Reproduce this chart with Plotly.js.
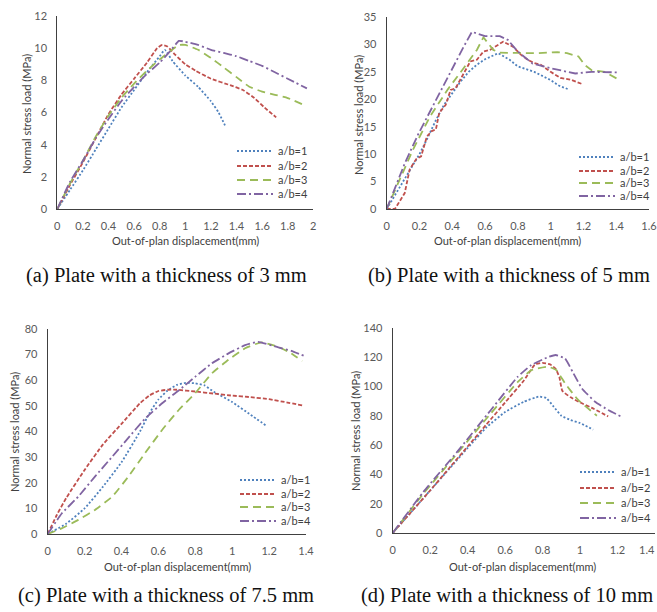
<!DOCTYPE html>
<html>
<head>
<meta charset="utf-8">
<script src="https://cdn.plot.ly/plotly-3.0.1.min.js"></script>
<style>html,body{margin:0;padding:0;background:#fff;}#chart{width:657px;height:612px;}</style>
</head>
<body>
<div id="chart"></div>
<script>
// Series names
const seriesNames = ["a/b=1", "a/b=2", "a/b=3", "a/b=4"];

// (a) 3 mm plate
const a1x = [0,0.1,0.2,0.3,0.4,0.5,0.6,0.7,0.8,0.84,0.9,1.0,1.1,1.2,1.26,1.31];
const a1y = [0,1.2,2.4,3.7,5.0,6.3,7.4,8.5,9.5,9.9,9.2,8.3,7.6,6.7,6.0,5.2];
const a2x = [0,0.1,0.2,0.3,0.4,0.5,0.6,0.7,0.78,0.82,0.86,0.92,1.0,1.08,1.2,1.35,1.45,1.54,1.62,1.71];
const a2y = [0,1.5,2.9,4.4,5.9,7.1,8.1,9.1,10.0,10.2,10.1,9.6,9.0,8.6,8.1,7.7,7.4,6.9,6.3,5.7];
const a3x = [0,0.1,0.2,0.3,0.4,0.5,0.6,0.7,0.8,0.88,0.95,1.0,1.1,1.2,1.3,1.4,1.5,1.6,1.7,1.8,1.93];
const a3y = [0,1.6,3.0,4.5,5.8,6.9,7.8,8.6,9.3,9.8,10.2,10.2,9.9,9.4,8.8,8.2,7.6,7.3,7.1,6.9,6.45];
const a4x = [0,0.1,0.2,0.3,0.4,0.5,0.6,0.7,0.8,0.88,0.95,1.0,1.1,1.2,1.3,1.4,1.5,1.6,1.7,1.8,1.95];
const a4y = [0,1.7,3.0,4.4,5.6,6.7,7.6,8.4,9.1,9.8,10.45,10.4,10.2,9.9,9.7,9.5,9.2,8.9,8.5,8.1,7.5];

// (b) 5 mm plate
const b1x = [0,0.05,0.1,0.15,0.2,0.25,0.3,0.35,0.4,0.45,0.5,0.55,0.6,0.68,0.75,0.8,0.9,1.0,1.05,1.11];
const b1y = [0,2.5,5.2,7.5,10,13,16.2,19,21.2,23.2,25,26.3,27.3,28.4,27.2,26,25,23.5,22.5,21.8];
const b2x = [0,0.05,0.11,0.14,0.18,0.21,0.245,0.275,0.30,0.32,0.36,0.39,0.42,0.47,0.51,0.55,0.59,0.63,0.69,0.71,0.77,0.82,0.86,0.90,0.94,1.0,1.06,1.12,1.19];
const b2y = [0,0,2.9,7.2,9.1,9.6,13.2,14.2,14.5,17.5,19,21.7,22,24.8,26.9,27.2,28.7,29,30.2,30.5,29.6,28.1,27.2,26.6,26.3,25,23.9,23.6,22.8];
const b3x = [0,0.06,0.16,0.265,0.37,0.47,0.55,0.59,0.65,0.69,0.8,0.92,1.04,1.1,1.17,1.21,1.25,1.33,1.42];
const b3y = [0,4.1,10.8,16.9,21.7,25.7,29,31.3,29,28.5,28.4,28.4,28.6,28.4,27.8,26.2,25.3,25,23.5];
const b4x = [0,0.11,0.19,0.30,0.40,0.47,0.52,0.60,0.69,0.74,0.80,0.89,1.01,1.15,1.25,1.42];
const b4y = [0,8.3,13.5,19.9,25.6,29.6,32.3,31.5,31.5,30.8,28.7,26.5,25.6,24.7,25,24.9];

// (c) 7.5 mm plate
const c1x = [0,0.1,0.2,0.3,0.4,0.5,0.55,0.6,0.65,0.7,0.75,0.8,0.85,0.9,1.0,1.1,1.19];
const c1y = [0,4,10,18.5,28,40,47,52.5,56,58.2,59,58.8,58,55.5,51.5,46.5,42];
const c2x = [0,0.05,0.1,0.2,0.3,0.4,0.5,0.55,0.6,0.65,0.7,0.8,0.9,1.0,1.1,1.2,1.3,1.38];
const c2y = [0,7.5,14,25,35,43,51,54,55.8,56.3,56.3,55.6,54.8,54,53.4,52.6,51.3,50.2];
const c3x = [0,0.076,0.166,0.256,0.35,0.437,0.527,0.62,0.71,0.80,0.89,0.98,1.07,1.16,1.25,1.32,1.38];
const c3y = [0,2.2,5.5,9.4,14.6,22.4,31.5,40.6,48.4,55,62.7,68,72.5,74.8,73,70.5,67.5];
const c4x = [0,0.076,0.166,0.256,0.35,0.437,0.527,0.62,0.71,0.80,0.89,0.98,1.07,1.14,1.25,1.32,1.39];
const c4y = [0,8,14.6,22.4,30.2,37.5,45,51,56,61.4,66.6,70.5,73.7,75,72.8,71.5,69.5];

// (d) 10 mm plate
const d1x = [0,0.1,0.2,0.3,0.4,0.5,0.6,0.7,0.78,0.82,0.86,0.9,0.95,1.0,1.07];
const d1y = [0,14.5,29,43.5,58,72,82.5,89.5,93,92,86,80,77,75,70.5];
const d2x = [0,0.1,0.2,0.3,0.4,0.5,0.6,0.7,0.76,0.8,0.84,0.87,0.89,0.905,0.95,1.0,1.06,1.15];
const d2y = [0,14.5,29,44,59,74,89,104,115,116,115,112,106,97,92.5,89,85.5,79.5];
const d3x = [0,0.165,0.345,0.524,0.668,0.74,0.83,0.874,0.92,0.99,1.09];
const d3y = [0,27,54.3,81.6,103,111,113.4,111,102,90.7,80];
const d4x = [0,0.165,0.345,0.524,0.668,0.74,0.83,0.87,0.92,0.96,1.01,1.08,1.15,1.22];
const d4y = [0,28.2,55.5,83.9,106.6,114.5,120,121.4,119,110,98.6,89.5,83.9,79.3];

// Tick values
const ticksAx = [0,0.2,0.4,0.6,0.8,1,1.2,1.4,1.6,1.8,2];
const ticksAy = [0,2,4,6,8,10,12];
const ticksBx = [0,0.2,0.4,0.6,0.8,1,1.2,1.4,1.6];
const ticksBy = [0,5,10,15,20,25,30,35];
const ticksCx = [0,0.2,0.4,0.6,0.8,1,1.2,1.4];
const ticksCy = [0,10,20,30,40,50,60,70,80];
const ticksDx = [0,0.2,0.4,0.6,0.8,1,1.2,1.4];
const ticksDy = [0,20,40,60,80,100,120,140];
// panel (d): last x label sits at the page edge, so it is drawn right-aligned instead
const labelsDx = ["0","0.2","0.4","0.6","0.8","1","1.2",""];
const edgeLabelDx = "1.4";

const captions = ["(a) Plate with a thickness of 3 mm", "(b) Plate with a thickness of 5 mm",
                  "(c) Plate with a thickness of 7.5 mm", "(d) Plate with a thickness of 10 mm"];
const yTitle = "Normal stress load (MPa)";
const xTitle = "Out-of-plan displacement(mm)";

const colors = ["#4F81BD", "#C0504D", "#9BBB59", "#8064A2"];
const dashes = ["2px,2px", "4px,2px", "8px,5px", "9px,3px,2px,3px"];

const W = 657, H = 612;
const px = v => v / W;
const py = v => (H - v) / H;

// legend placement per panel: left x of legend, row centres (pixels)
const panels = [
  {xs:[a1x,a2x,a3x,a4x], ys:[a1y,a2y,a3y,a4y], xa:"x", ya:"y", smooth:true, lx:232, rows:[151,166,180,194]},
  {xs:[b1x,b2x,b3x,b4x], ys:[b1y,b2y,b3y,b4y], xa:"x2", ya:"y2", smooth:false, lx:574, rows:[157,171,183,196]},
  {xs:[c1x,c2x,c3x,c4x], ys:[c1y,c2y,c3y,c4y], xa:"x3", ya:"y3", smooth:true, lx:235, rows:[480,494,507,521]},
  {xs:[d1x,d2x,d3x,d4x], ys:[d1y,d2y,d3y,d4y], xa:"x4", ya:"y4", smooth:true, lx:575, rows:[472,488,503,518]}
];

const legendFont = {family: "Lato, 'Liberation Sans', sans-serif", size: 11, color: "#404040"};
const layoutLegends = {};
const traces = [];
let lgIndex = 0;
panels.forEach(p => {
  for (let i = 0; i < 4; i++) {
    lgIndex++;
    const lgName = lgIndex === 1 ? "legend" : "legend" + lgIndex;
    layoutLegends[lgName] = {x: px(p.lx), y: py(p.rows[i]), xanchor: "left", yanchor: "middle",
      xref: "paper", yref: "paper", bgcolor: "rgba(0,0,0,0)", font: legendFont, itemwidth: 36,
      visible: true};
    const line = {color: colors[i], width: 1.8, dash: dashes[i]};
    if (p.smooth) { line.shape = "spline"; line.smoothing = 0.4; }
    traces.push({
      x: p.xs[i], y: p.ys[i], type: "scatter", mode: "lines",
      name: seriesNames[i], xaxis: p.xa, yaxis: p.ya, legend: lgName, showlegend: true,
      line: line, hoverinfo: "skip"
    });
  }
});

const tickFont = {family: "Lato, 'Liberation Sans', sans-serif", size: 11, color: "#595959"};
function xaxisDef(x0, x1, range, tv, anchor, tt) {
  const ax = {domain: [px(x0), px(x1)], range: range, tickvals: tv, anchor: anchor,
    showgrid: false, zeroline: false, showline: true, linecolor: "#404040", linewidth: 1,
    ticks: "", tickfont: tickFont, ticklabelstandoff: 7, ticklabeloverflow: "allow", fixedrange: true};
  if (tt) ax.ticktext = tt;
  return ax;
}
function yaxisDef(y0, y1, range, tv, anchor) {
  return {domain: [py(y0), py(y1)], range: range, tickvals: tv, anchor: anchor,
    showgrid: false, zeroline: false, showline: true, linecolor: "#404040", linewidth: 1,
    ticks: "", tickfont: tickFont, ticklabelstandoff: 7, fixedrange: true};
}

const titleFont = {family: "Lato, 'Liberation Sans', sans-serif", size: 11, color: "#404040"};
const capFont = {family: "'Liberation Serif', 'Times New Roman', serif", size: 20.5, color: "#111"};

function ann(text, x, y, font, rot, xanchor) {
  return {text: text, x: px(x), y: py(y), xref: "paper", yref: "paper", showarrow: false,
    xanchor: xanchor || "center", yanchor: "middle", font: font, textangle: rot || 0};
}

const layout = Object.assign({
  width: W, height: H, margin: {l: 0, r: 0, t: 0, b: 0},
  showlegend: true,
  paper_bgcolor: "#fff", plot_bgcolor: "#fff",
  xaxis: xaxisDef(57.3, 313.3, [0, 2], ticksAx, "y"),
  yaxis: yaxisDef(209, 16, [0, 12], ticksAy, "x"),
  xaxis2: xaxisDef(386.7, 649, [0, 1.6], ticksBx, "y2"),
  yaxis2: yaxisDef(209, 17, [0, 35], ticksBy, "x2"),
  xaxis3: xaxisDef(47.7, 306, [0, 1.4], ticksCx, "y3"),
  yaxis3: yaxisDef(534, 329, [0, 80], ticksCy, "x3"),
  xaxis4: xaxisDef(392.7, 655, [0, 1.4], ticksDx, "y4", labelsDx),
  yaxis4: yaxisDef(533, 327.7, [0, 140], ticksDy, "x4"),
  annotations: [
    ann(yTitle, 26, 114, titleFont, -90),
    ann(xTitle, 185, 240, titleFont),
    ann(yTitle, 358, 115, titleFont, -90),
    ann(xTitle, 507, 240, titleFont),
    ann(yTitle, 15, 432, titleFont, -90),
    ann(xTitle, 177, 566, titleFont),
    ann(yTitle, 356, 431, titleFont, -90),
    ann(xTitle, 522, 566, titleFont),
    ann(edgeLabelDx, 657, 549, tickFont, 0, "right"),
    ann(captions[0], 166, 275, capFont),
    ann(captions[1], 509, 275, capFont),
    ann(captions[2], 166, 595, capFont),
    ann(captions[3], 507, 595, capFont)
  ]
}, layoutLegends);

Plotly.newPlot("chart", traces, layout, {displayModeBar: false, staticPlot: true});
</script>
</body>
</html>
